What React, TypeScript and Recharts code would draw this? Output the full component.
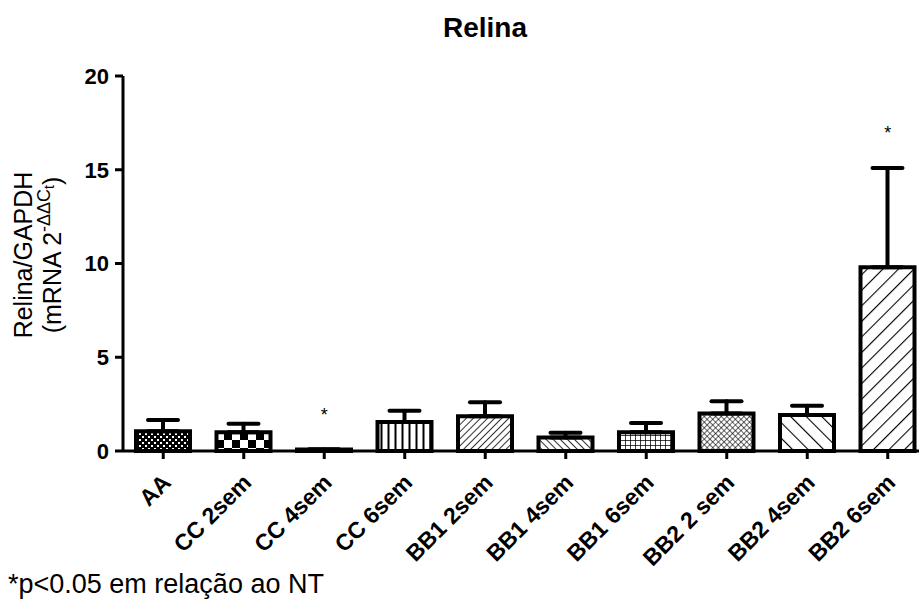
import React from "react";
import { ComposedChart, Bar, Line, XAxis, YAxis, ErrorBar, Cell, LabelList } from "recharts";

const groups = ["AA", "CC 2sem", "CC 4sem", "CC 6sem", "BB1 2sem", "BB1 4sem", "BB1 6sem", "BB2 2 sem", "BB2 4sem", "BB2 6sem"];
const means = [1.05, 1.0, 0.08, 1.55, 1.85, 0.72, 1.0, 2.0, 1.92, 9.8];
const sems = [0.6, 0.45, 0, 0.6, 0.75, 0.25, 0.5, 0.65, 0.5, 5.3];
const significant = [false, false, true, false, false, false, false, false, false, true];
const patterns = ["pAA", "pCC2", "pCC4", "pCC6", "pB12", "pB14", "pB16", "pB22", "pB24", "pB26"];
const yTicks = [0, 5, 10, 15, 20];

const data = groups.map((g, i) => ({
    name: g,
    mean: means[i],
    err: [0, sems[i]],
    star: significant[i] ? means[i] + sems[i] : null,
}));

const FONT = "Arial, 'Liberation Sans', sans-serif";

function XTick(props: any) {
    const { x, y, payload } = props;
    return (
        <g transform={`translate(${x},${y})`}>
            <text
                transform="translate(9,23) rotate(-45)"
                textAnchor="end"
                fontFamily={FONT}
                fontWeight="bold"
                fontSize={23}
                fill="#000"
            >
                {payload.value}
            </text>
        </g>
    );
}

function Star(props: any) {
    const { x, y, value } = props;
    if (value === null || value === undefined) return null;
    return (
        <text x={x} y={y - 29} textAnchor="middle" fontFamily={FONT} fontSize={18} fill="#000">
            *
        </text>
    );
}

function Patterns() {
    return (
        <svg width={0} height={0} style={{ position: "absolute" }}>
            <defs>
                <pattern id="pAA" width={6} height={6} patternUnits="userSpaceOnUse">
                    <rect width={6} height={6} fill="#000" />
                    <rect x={1} y={1} width={2} height={2} fill="#fff" />
                    <rect x={4} y={4} width={2} height={2} fill="#fff" />
                </pattern>
                <pattern id="pCC2" width={16} height={16} patternUnits="userSpaceOnUse">
                    <rect width={16} height={16} fill="#fff" />
                    <rect width={8} height={8} fill="#000" />
                    <rect x={8} y={8} width={8} height={8} fill="#000" />
                </pattern>
                <pattern id="pCC4" width={6} height={6} patternUnits="userSpaceOnUse">
                    <rect width={6} height={6} fill="#000" />
                </pattern>
                <pattern id="pCC6" width={7} height={7} patternUnits="userSpaceOnUse">
                    <rect width={7} height={7} fill="#fff" />
                    <line x1={3.5} y1={0} x2={3.5} y2={7} stroke="#000" strokeWidth={2} />
                </pattern>
                <pattern id="pB12" width={5} height={5} patternUnits="userSpaceOnUse" patternTransform="rotate(45)">
                    <rect width={5} height={5} fill="#fff" />
                    <line x1={0} y1={0} x2={0} y2={5} stroke="#000" strokeWidth={1.6} />
                </pattern>
                <pattern id="pB14" width={5} height={5} patternUnits="userSpaceOnUse" patternTransform="rotate(-45)">
                    <rect width={5} height={5} fill="#fff" />
                    <line x1={0} y1={0} x2={0} y2={5} stroke="#000" strokeWidth={1.6} />
                </pattern>
                <pattern id="pB16" width={5} height={5} patternUnits="userSpaceOnUse">
                    <rect width={5} height={5} fill="#fff" />
                    <line x1={0} y1={0} x2={0} y2={5} stroke="#000" strokeWidth={1.5} />
                    <line x1={0} y1={0} x2={5} y2={0} stroke="#000" strokeWidth={1.5} />
                </pattern>
                <pattern id="pB22" width={4} height={4} patternUnits="userSpaceOnUse" patternTransform="rotate(45)">
                    <rect width={4} height={4} fill="#fff" />
                    <line x1={0} y1={0} x2={0} y2={4} stroke="#000" strokeWidth={1.2} />
                    <line x1={0} y1={0} x2={4} y2={0} stroke="#000" strokeWidth={1.2} />
                </pattern>
                <pattern id="pB24" width={11} height={11} patternUnits="userSpaceOnUse" patternTransform="rotate(-45)">
                    <rect width={11} height={11} fill="#fff" />
                    <line x1={0} y1={0} x2={0} y2={11} stroke="#000" strokeWidth={2.2} />
                </pattern>
                <pattern id="pB26" width={11} height={11} patternUnits="userSpaceOnUse" patternTransform="rotate(45)">
                    <rect width={11} height={11} fill="#fff" />
                    <line x1={0} y1={0} x2={0} y2={11} stroke="#000" strokeWidth={2.2} />
                </pattern>
            </defs>
        </svg>
    );
}

export default function App() {
    return (
        <div style={{ position: "fixed", left: 0, top: 0, width: 919, height: 603, overflow: "hidden", background: "#fff" }}>
            <Patterns />
            <ComposedChart
                width={935}
                height={603}
                data={data}
                margin={{ top: 76, right: 7, bottom: 0, left: 0 }}
                barCategoryGap={0}
            >
                <XAxis
                    dataKey="name"
                    height={152}
                    interval={0}
                    tick={<XTick />}
                    tickSize={8}
                    axisLine={{ stroke: "#000", strokeWidth: 3 }}
                    tickLine={{ stroke: "#000", strokeWidth: 3 }}
                />
                <YAxis
                    width={123}
                    domain={[0, 20]}
                    ticks={yTicks}
                    tickSize={8}
                    tickMargin={6}
                    axisLine={{ stroke: "#000", strokeWidth: 3 }}
                    tickLine={{ stroke: "#000", strokeWidth: 3 }}
                    tick={{ fill: "#000", fontFamily: FONT, fontWeight: "bold", fontSize: 22 }}
                />
                <Bar dataKey="mean" barSize={54} isAnimationActive={false} stroke="#000" strokeWidth={4}>
                    {data.map((d, i) => (
                        <Cell key={d.name} fill={`url(#${patterns[i]})`} stroke="#000" strokeWidth={4} />
                    ))}
                    <ErrorBar dataKey="err" direction="y" width={15} stroke="#000" strokeWidth={4} strokeLinecap="round" />
                </Bar>
                <Line dataKey="star" stroke="none" dot={false} activeDot={false} isAnimationActive={false}>
                    <LabelList dataKey="star" content={<Star />} />
                </Line>
            </ComposedChart>
            <svg width={919} height={603} style={{ position: "absolute", left: 0, top: 0, pointerEvents: "none" }}>
                <text x={485} y={37} textAnchor="middle" fontFamily={FONT} fontWeight="bold" fontSize={28} fill="#000">
                    Relina
                </text>
                <g transform="translate(32,255) rotate(-90)">
                    <text x={0} y={0} textAnchor="middle" fontFamily={FONT} fontSize={25} fill="#000">
                        Relina/GAPDH
                    </text>
                    <text x={0} y={29} textAnchor="middle" fontFamily={FONT} fontSize={25} fill="#000">
                        (mRNA 2<tspan dy={-11} fontSize={18}>-ΔΔC</tspan><tspan dy={4} fontSize={14}>t</tspan><tspan dy={7}>)</tspan>
                    </text>
                </g>
                <text x={8} y={593} fontFamily={FONT} fontSize={27} fill="#000">
                    *p&lt;0.05 em relação ao NT
                </text>
            </svg>
        </div>
    );
}
